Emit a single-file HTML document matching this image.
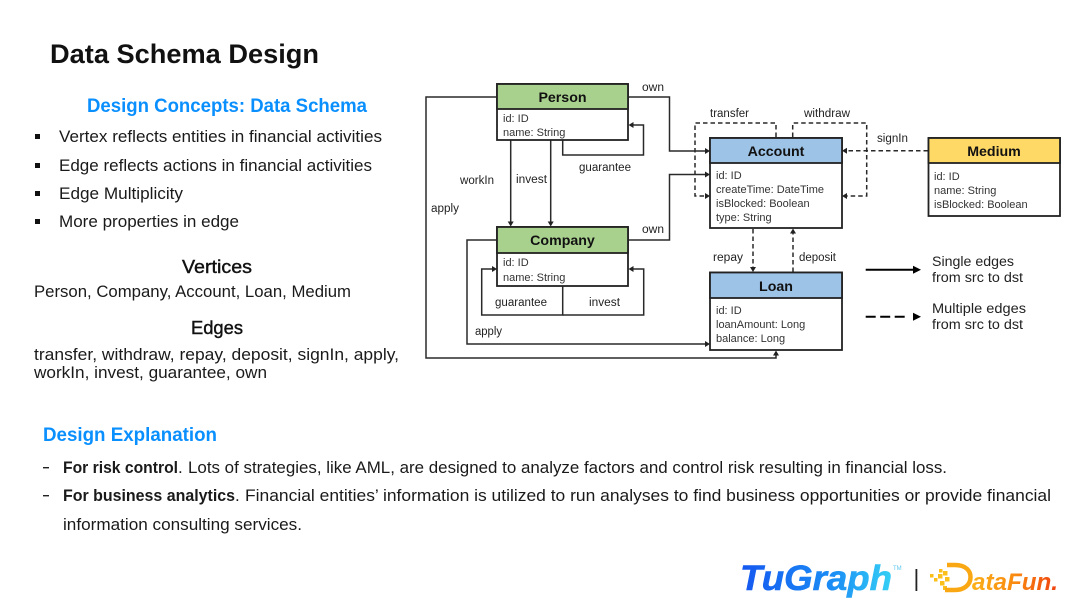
<!DOCTYPE html>
<html><head><meta charset="utf-8">
<style>
html,body{margin:0;padding:0;background:#fff;width:1080px;height:608px;overflow:hidden}
svg{display:block}
text{font-family:"Liberation Sans",sans-serif}
.b{fill:#1a1a1a;font-size:17px}
.h{fill:#0a8fff;font-weight:bold}
.l{fill:#222;font-size:11.500px}
.a{fill:#333;font-size:11px}
.t{fill:#111;font-size:14.200px;font-weight:bold}
.c{fill:none;stroke:#2a2a2a;stroke-width:1.500}
.d{fill:none;stroke:#2a2a2a;stroke-width:1.500;stroke-dasharray:4.500 3}
.box{fill:#fff;stroke:#222;stroke-width:1.800}
</style></head><body>
<svg width="1080" height="608" viewBox="0 0 1080 608" xmlns="http://www.w3.org/2000/svg">
<defs>
<linearGradient id="tg" x1="0" x2="1" y1="0" y2="0"><stop offset="0" stop-color="#1557f0"/><stop offset=".6" stop-color="#1a8cf5"/><stop offset="1" stop-color="#35d0f5"/></linearGradient>
<linearGradient id="df" x1="0" x2="1" y1="0" y2="0"><stop offset="0" stop-color="#fbb01a"/><stop offset=".5" stop-color="#f98a10"/><stop offset="1" stop-color="#f0400f"/></linearGradient>
</defs>

<text x="50" y="63" font-size="27" font-weight="bold" fill="#111" textLength="269" lengthAdjust="spacingAndGlyphs">Data Schema Design</text>

<text class="h" x="87" y="112" font-size="19" textLength="280" lengthAdjust="spacingAndGlyphs">Design Concepts: Data Schema</text>
<g fill="#111"><rect x="35" y="134" width="5" height="5"/><rect x="35" y="163" width="5" height="5"/><rect x="35" y="191" width="5" height="5"/><rect x="35" y="219" width="5" height="5"/></g>
<text class="b" x="59" y="142" textLength="323" lengthAdjust="spacingAndGlyphs">Vertex reflects entities in financial activities</text>
<text class="b" x="59" y="171" textLength="313" lengthAdjust="spacingAndGlyphs">Edge reflects actions in financial activities</text>
<text class="b" x="59" y="199" textLength="124" lengthAdjust="spacingAndGlyphs">Edge Multiplicity</text>
<text class="b" x="59" y="227" textLength="180" lengthAdjust="spacingAndGlyphs">More properties in edge</text>

<text x="182" y="273" font-size="18" fill="#111" textLength="70" lengthAdjust="spacingAndGlyphs" stroke="#111" stroke-width=".4">Vertices</text>
<text class="b" x="34" y="297" textLength="317" lengthAdjust="spacingAndGlyphs">Person, Company, Account, Loan, Medium</text>
<text x="191" y="334" font-size="18" fill="#111" textLength="52" lengthAdjust="spacingAndGlyphs" stroke="#111" stroke-width=".4">Edges</text>
<text class="b" x="34" y="360" textLength="365" lengthAdjust="spacingAndGlyphs">transfer, withdraw, repay, deposit, signIn, apply,</text>
<text class="b" x="34" y="378" textLength="233" lengthAdjust="spacingAndGlyphs">workIn, invest, guarantee, own</text>

<text class="h" x="43" y="441" font-size="19" textLength="174" lengthAdjust="spacingAndGlyphs">Design Explanation</text>
<rect x="43" y="467" width="6" height="1.400" fill="#222"/>
<rect x="43" y="495" width="6" height="1.400" fill="#222"/>
<text class="b" x="63" y="473" font-weight="bold" textLength="115" lengthAdjust="spacingAndGlyphs">For risk control</text>
<text class="b" x="178" y="473">.</text>
<text class="b" x="188" y="473" textLength="759" lengthAdjust="spacingAndGlyphs">Lots of strategies, like AML, are designed to analyze factors and control risk resulting in financial loss.</text>
<text class="b" x="63" y="501" font-weight="bold" textLength="172" lengthAdjust="spacingAndGlyphs">For business analytics</text>
<text class="b" x="235" y="501">.</text>
<text class="b" x="245" y="501" textLength="806" lengthAdjust="spacingAndGlyphs">Financial entities’ information is utilized to run analyses to find business opportunities or provide financial</text>
<text class="b" x="63" y="530" textLength="239" lengthAdjust="spacingAndGlyphs">information consulting services.</text>

<!-- connectors -->
<path class="c" d="M497 97H426V358H776V352"/>
<path class="c" d="M628 97H669.500V151H706"/>
<path class="c" d="M628 240H669.500V174.500H706"/>
<path class="c" d="M510.700 140V223"/>
<path class="c" d="M550.700 140V223"/>
<path class="c" d="M562.700 140V155H643.500V125H632"/>
<path class="c" d="M497 240H467V344H706"/>
<path class="c" d="M562.700 286V315H481.700V269H493"/>
<path class="c" d="M562.700 315H643.700V269H632"/>
<path class="d" d="M776 137V123H695V196H706"/>
<path class="d" d="M792.700 137V123H866.700V196H846"/>
<path class="d" d="M928 150.700H846"/>
<path class="d" d="M753 229V268"/>
<path class="d" d="M793 272V232"/>
<g fill="#222">
<path d="M710 151l-5-3v6z"/><path d="M710 174.500l-5-3v6z"/><path d="M710 196l-5-3v6z"/>
<path d="M710 344l-5-3v6z"/>
<path d="M842 150.700l5-3v6z"/><path d="M842 196l5-3v6z"/>
<path d="M628.500 125l5-3v6z"/><path d="M628.500 269l5-3v6z"/><path d="M497 269l-5-3v6z"/>
<path d="M510.700 226.500l-3-5h6z"/><path d="M550.700 226.500l-3-5h6z"/>
<path d="M753 272l-3-5h6z"/><path d="M793 228.500l-3 5h6z"/><path d="M776 350.500l-3 5h6z"/>
</g>

<!-- Person -->
<rect class="box" x="497" y="84" width="131" height="56"/>
<rect x="497" y="84" width="131" height="25" fill="#a9d18e" stroke="#222" stroke-width="1.800"/>
<text class="t" x="562.500" y="102" text-anchor="middle">Person</text>
<text class="a" x="503" y="122">id: ID</text>
<text class="a" x="503" y="136">name: String</text>

<!-- Company -->
<rect class="box" x="497" y="227" width="131" height="59"/>
<rect x="497" y="227" width="131" height="26" fill="#a9d18e" stroke="#222" stroke-width="1.800"/>
<text class="t" x="562.500" y="245" text-anchor="middle">Company</text>
<text class="a" x="503" y="266">id: ID</text>
<text class="a" x="503" y="281">name: String</text>

<!-- Account -->
<rect class="box" x="710" y="138" width="132" height="90"/>
<rect x="710" y="138" width="132" height="25" fill="#9dc3e6" stroke="#222" stroke-width="1.800"/>
<text class="t" x="776" y="156" text-anchor="middle">Account</text>
<text class="a" x="716" y="179">id: ID</text>
<text class="a" x="716" y="193">createTime: DateTime</text>
<text class="a" x="716" y="207">isBlocked: Boolean</text>
<text class="a" x="716" y="221">type: String</text>

<!-- Loan -->
<rect class="box" x="710" y="272.500" width="132" height="77.500"/>
<rect x="710" y="272.500" width="132" height="25.500" fill="#9dc3e6" stroke="#222" stroke-width="1.800"/>
<text class="t" x="776" y="291" text-anchor="middle">Loan</text>
<text class="a" x="716" y="314">id: ID</text>
<text class="a" x="716" y="328">loanAmount: Long</text>
<text class="a" x="716" y="342">balance: Long</text>

<!-- Medium -->
<rect class="box" x="928.500" y="138" width="131.500" height="78"/>
<rect x="928.500" y="138" width="131.500" height="25" fill="#ffd966" stroke="#222" stroke-width="1.800"/>
<text class="t" x="994" y="156" text-anchor="middle">Medium</text>
<text class="a" x="934" y="180">id: ID</text>
<text class="a" x="934" y="194">name: String</text>
<text class="a" x="934" y="208">isBlocked: Boolean</text>

<!-- edge labels -->
<text class="l" x="642" y="91" textLength="22" lengthAdjust="spacingAndGlyphs">own</text>
<text class="l" x="710" y="117" textLength="39" lengthAdjust="spacingAndGlyphs">transfer</text>
<text class="l" x="804" y="117" textLength="46" lengthAdjust="spacingAndGlyphs">withdraw</text>
<text class="l" x="877" y="142" textLength="31" lengthAdjust="spacingAndGlyphs">signIn</text>
<text class="l" x="579" y="171" textLength="52" lengthAdjust="spacingAndGlyphs">guarantee</text>
<text class="l" x="460" y="184" textLength="34" lengthAdjust="spacingAndGlyphs">workIn</text>
<text class="l" x="516" y="183" textLength="31" lengthAdjust="spacingAndGlyphs">invest</text>
<text class="l" x="431" y="212" textLength="28" lengthAdjust="spacingAndGlyphs">apply</text>
<text class="l" x="642" y="233" textLength="22" lengthAdjust="spacingAndGlyphs">own</text>
<text class="l" x="495" y="306" textLength="52" lengthAdjust="spacingAndGlyphs">guarantee</text>
<text class="l" x="589" y="306" textLength="31" lengthAdjust="spacingAndGlyphs">invest</text>
<text class="l" x="475" y="335" textLength="27" lengthAdjust="spacingAndGlyphs">apply</text>
<text class="l" x="713" y="261" textLength="30" lengthAdjust="spacingAndGlyphs">repay</text>
<text class="l" x="799" y="261" textLength="37" lengthAdjust="spacingAndGlyphs">deposit</text>

<!-- legend -->
<path d="M865.700 269.700H914" stroke="#000" stroke-width="2" fill="none"/>
<path d="M921 269.700l-8-4v8z" fill="#000"/>
<path d="M865.700 316.700H905" stroke="#000" stroke-width="2" stroke-dasharray="10 4.500" fill="none"/>
<path d="M921 316.700l-8-4v8z" fill="#000"/>
<text x="932" y="266" font-size="13.500" fill="#222" textLength="82" lengthAdjust="spacingAndGlyphs">Single edges</text>
<text x="932" y="282" font-size="13.500" fill="#222" textLength="91" lengthAdjust="spacingAndGlyphs">from src to dst</text>
<text x="932" y="313" font-size="13.500" fill="#222" textLength="94" lengthAdjust="spacingAndGlyphs">Multiple edges</text>
<text x="932" y="329" font-size="13.500" fill="#222" textLength="91" lengthAdjust="spacingAndGlyphs">from src to dst</text>

<!-- logos -->
<text x="740" y="590" font-size="35" font-weight="bold" font-style="italic" fill="url(#tg)" stroke="url(#tg)" stroke-width=".6" textLength="152" lengthAdjust="spacingAndGlyphs">TuGraph</text>
<text x="893" y="570" font-size="6" fill="#5cc8ee">TM</text>
<rect x="915.500" y="569" width="1.800" height="22" fill="#222"/>
<g fill="#fbbf1a">
<rect x="930" y="574" width="3.500" height="3.500"/><rect x="934" y="578" width="3.500" height="3.500"/><rect x="938" y="574" width="4.500" height="4.500"/><rect x="939" y="569" width="3.500" height="3.500"/><rect x="943" y="571" width="4.500" height="4.500"/><rect x="940" y="581" width="4.500" height="4.500"/><rect x="945" y="577" width="4.500" height="4.500"/><rect x="943" y="586" width="4" height="4"/>
</g>
<path d="M947 565H955C966 565 970.500 571 970.500 577C970.500 585 964 590 955 590H945" fill="none" stroke="#f9a814" stroke-width="4.500"/>
<text x="972" y="590" font-size="24" font-weight="bold" font-style="italic" fill="url(#df)" textLength="86" lengthAdjust="spacingAndGlyphs">ataFun.</text>
</svg>
</body></html>
